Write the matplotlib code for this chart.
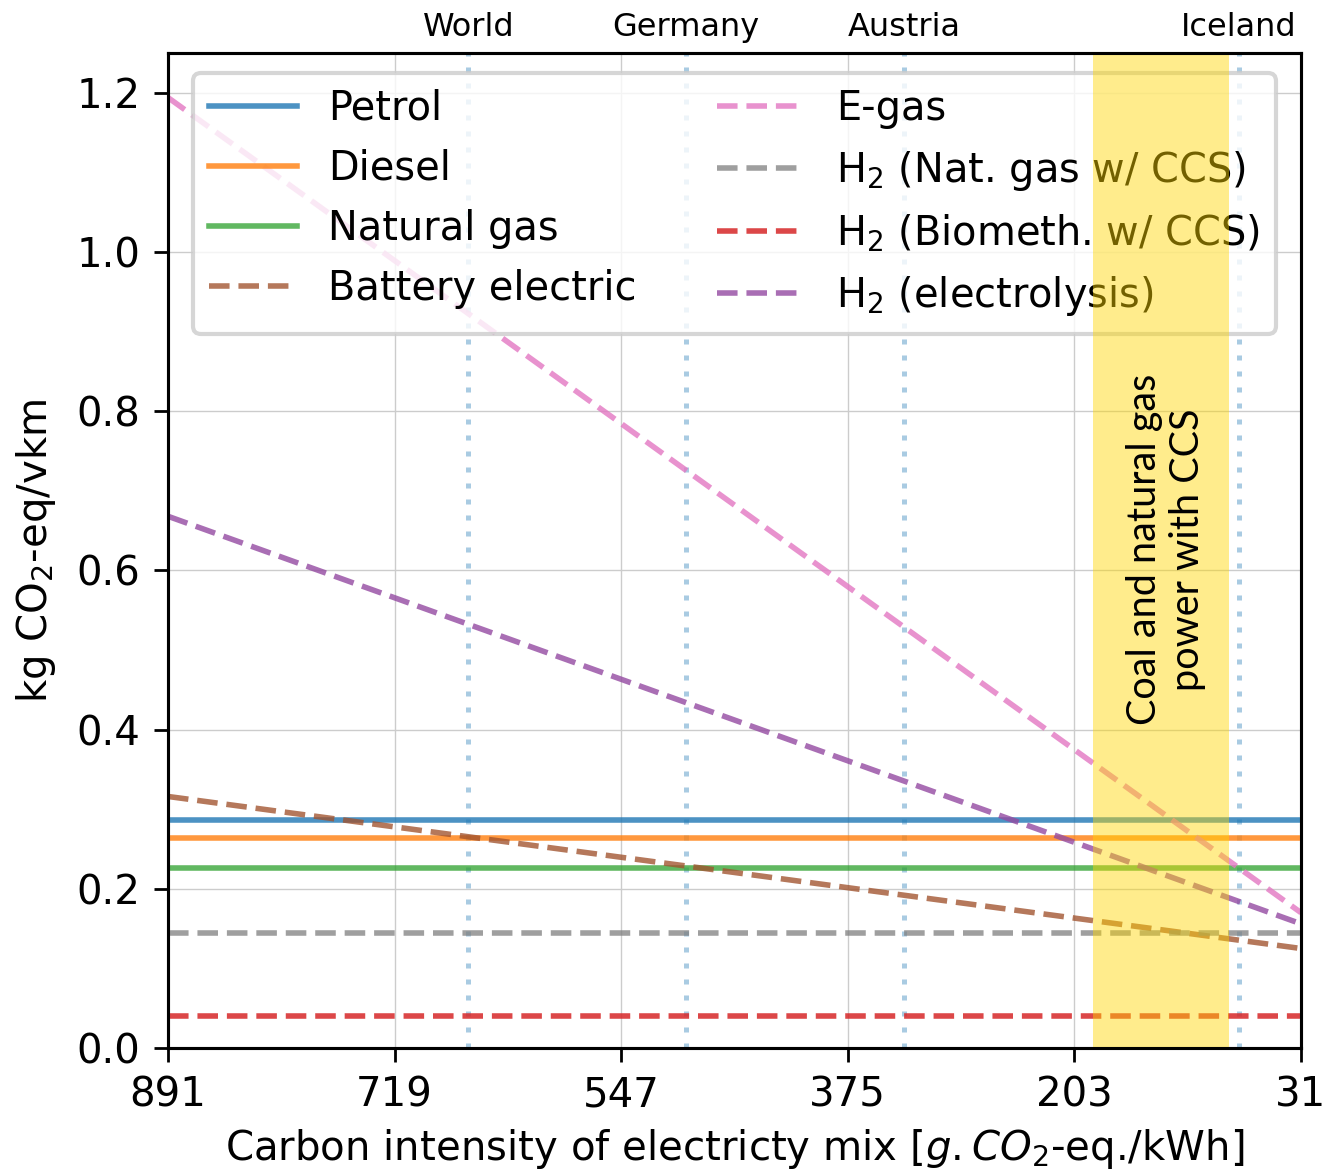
import matplotlib
matplotlib.use("Agg")
import matplotlib.pyplot as plt

# ---------------- data ----------------
x_ends = [891, 31]                       # carbon intensity range (g CO2-eq/kWh)
x_ticks = [891, 719, 547, 375, 203, 31]
y_ticks = [0.0, 0.2, 0.4, 0.6, 0.8, 1.0, 1.2]

petrol = [0.287, 0.287]
diesel = [0.264, 0.264]
natural_gas = [0.226, 0.226]
battery_electric = [0.316, 0.125]
e_gas = [1.194, 0.170]
h2_natgas_ccs = [0.145, 0.145]
h2_biometh_ccs = [0.040, 0.040]
h2_electrolysis = [0.668, 0.156]

country_names = ["World", "Germany", "Austria", "Iceland"]
country_x = [663, 498, 332, 78]

ccs_range = [189, 86]
ccs_text = "Coal and natural gas\npower with CCS"

# ---------------- figure ----------------
plt.rcParams["font.family"] = ["DejaVu Sans"]
plt.rcParams["mathtext.fontset"] = "dejavusans"

fig = plt.figure(figsize=(13.24, 11.72), dpi=100)
ax = fig.add_axes([168 / 1324, 1 - 1048 / 1172, (1301 - 168) / 1324, (1048 - 53) / 1172])

ax.grid(True, color="0.8", lw=1.0, zorder=0)
ax.set_axisbelow(True)

for cx in country_x:
    ax.axvline(cx, color="tab:blue", alpha=0.38, lw=3.6, ls=(0, (1, 2.2)), zorder=1)

lw = 4
ax.plot(x_ends, petrol, color="tab:blue", alpha=0.8, lw=lw, label="Petrol", zorder=3)
ax.plot(x_ends, diesel, color="tab:orange", alpha=0.8, lw=lw, label="Diesel", zorder=3)
ax.plot(x_ends, natural_gas, color="tab:green", alpha=0.75, lw=lw, label="Natural gas", zorder=3)
ax.plot(x_ends, battery_electric, color="sienna", alpha=0.78, lw=lw, ls="--",
        label="Battery electric", zorder=3)
ax.plot(x_ends, e_gas, color="tab:pink", alpha=0.8, lw=lw, ls="--", label="E-gas", zorder=3)
ax.plot(x_ends, h2_natgas_ccs, color="tab:gray", alpha=0.75, lw=lw, ls="--",
        label="H$_2$ (Nat. gas w/ CCS)", zorder=3)
ax.plot(x_ends, h2_biometh_ccs, color="tab:red", alpha=0.85, lw=lw, ls="--",
        label="H$_2$ (Biometh. w/ CCS)", zorder=3)
ax.plot(x_ends, h2_electrolysis, color=(0.58, 0.29, 0.63), alpha=0.8, lw=lw, ls="--",
        label="H$_2$ (electrolysis)", zorder=3)

ax.set_xlim(891, 31)
ax.set_ylim(0, 1.25)
ax.set_xticks(x_ticks)
ax.set_xticklabels([str(v) for v in x_ticks])
ax.set_yticks(y_ticks)
ax.set_yticklabels([f"{v:.1f}" for v in y_ticks])
ax.tick_params(axis="both", labelsize=29, length=10, width=2, pad=10)
for s in ax.spines.values():
    s.set_linewidth(2.2)

ax.set_xlabel("Carbon intensity of electricty mix [$g.CO_2$-eq./kWh]", fontsize=29, labelpad=8)
ax.set_ylabel("kg CO$_2$-eq/vkm", fontsize=29, labelpad=13)

leg = ax.legend(loc="upper center", ncol=2, fontsize=28.7, handlelength=2.2,
                framealpha=0.8, edgecolor="0.8", columnspacing=2.0)
leg.get_frame().set_linewidth(3)
leg.set_zorder(5)

ax.axvspan(ccs_range[0], ccs_range[1], color="gold", alpha=0.45, lw=0, zorder=6)
ax.text(133.5, 0.626, ccs_text, rotation=90,
        ha="center", va="center", multialignment="center", fontsize=28.5,
        family=["Lato", "DejaVu Sans"], zorder=11)

ax2 = ax.twiny()
ax2.set_xlim(ax.get_xlim())
ax2.set_xticks(country_x)
ax2.set_xticklabels(country_names, fontsize=23)
ax2.tick_params(axis="x", length=0, pad=7)
for s in ax2.spines.values():
    s.set_linewidth(2.2)

fig.savefig("out.png", dpi=100)
